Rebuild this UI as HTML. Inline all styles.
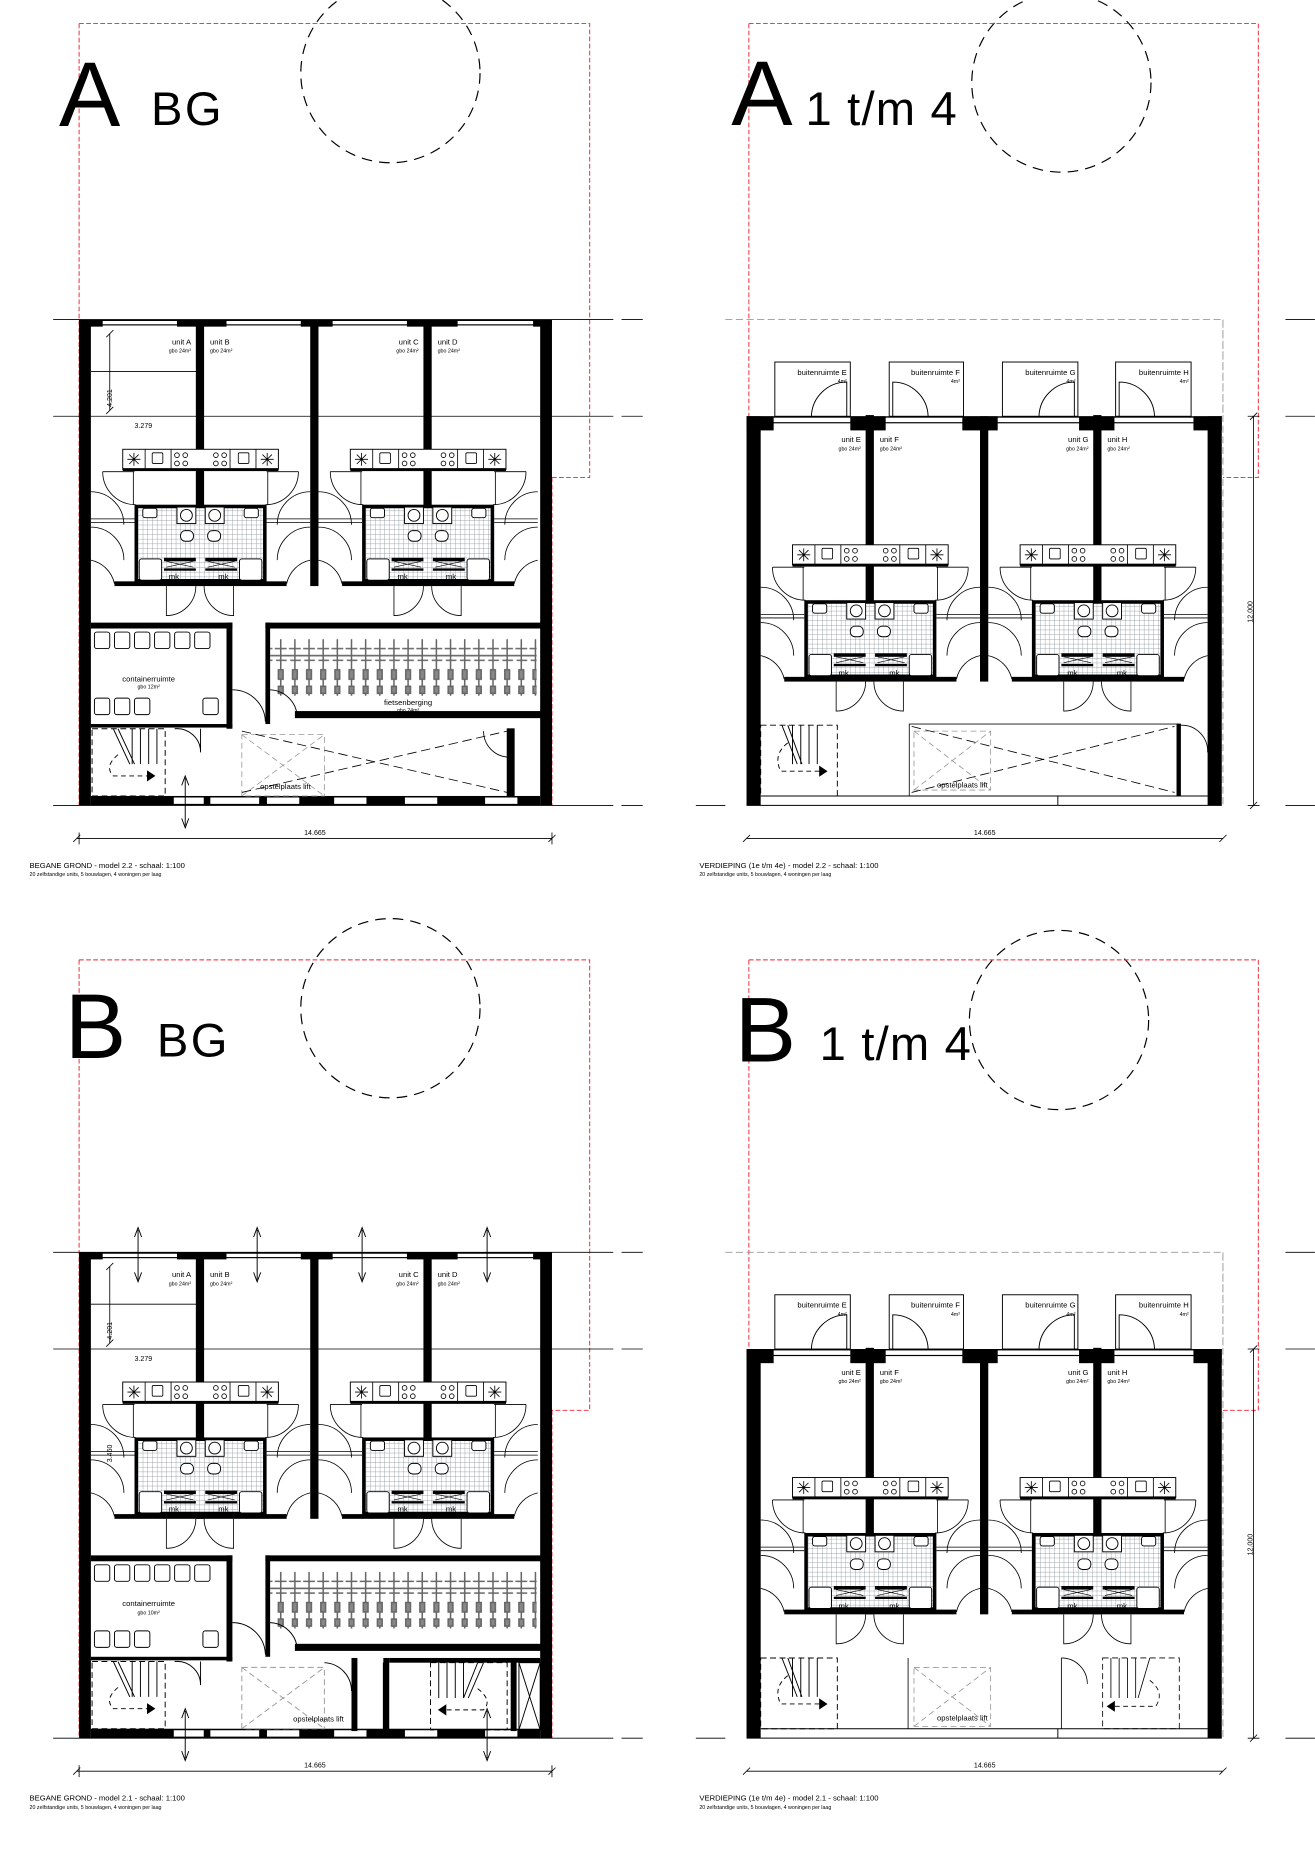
<!DOCTYPE html>
<html><head><meta charset="utf-8"><style>
html,body{margin:0;padding:0;background:#fff}
svg{display:block}
text{font-family:"Liberation Sans",sans-serif;fill:#000}
</style></head><body>
<svg width="1315" height="1849" viewBox="0 0 1115 1568" xmlns="http://www.w3.org/2000/svg">
<defs>
<pattern id="tile" width="4" height="4" patternUnits="userSpaceOnUse"><rect width="4" height="4" fill="#fff"/><path d="M0 0H4M0 0V4" stroke="#7f8a90" stroke-width="0.6"/></pattern>
<pattern id="bike" x="232" y="0" width="12" height="60" patternUnits="userSpaceOnUse">
<g stroke="#666" stroke-width="1.3" fill="none"><path d="M6 2V52M1 10H11M2 20H11M0 16H12"/><rect x="4" y="28" width="4" height="8" fill="#888"/><rect x="4" y="42" width="4" height="6" fill="#888"/></g></pattern>
<g id="pair">
<rect x="89" y="-226" width="7" height="226" fill="#000"/>
<rect x="27" y="-116" width="132" height="17" fill="#fff" stroke="#000" stroke-width="0.8"/>
<rect x="27" y="-100" width="132" height="2.5" fill="#000"/>
<path d="M46 -116V-99M68 -116V-99M118 -116V-99M140 -116V-99" stroke="#000" stroke-width="0.7"/>
<g stroke="#000" stroke-width="0.7" fill="none">
<path d="M36.5 -113V-102M31 -107.5H42M32.5 -111.5L40.5 -103.5M40.5 -111.5L32.5 -103.5"/>
<path d="M149.5 -113V-102M144 -107.5H155M145.5 -111.5L153.5 -103.5M153.5 -111.5L145.5 -103.5"/>
<rect x="52" y="-113" width="9" height="9" rx="1"/><rect x="125" y="-113" width="9" height="9" rx="1"/>
<circle cx="73" cy="-111" r="2"/><circle cx="80" cy="-111" r="2"/><circle cx="73" cy="-104" r="2"/><circle cx="80" cy="-104" r="2"/>
<circle cx="106" cy="-111" r="2"/><circle cx="113" cy="-111" r="2"/><circle cx="106" cy="-104" r="2"/><circle cx="113" cy="-104" r="2"/>
<path d="M10 -97H37M149 -97H176" />
<path d="M10 -97A28 28 0 0 0 38 -69M176 -97A28 28 0 0 1 148 -69"/>
<path d="M36 -97V-69M150 -97V-69"/>
<path d="M0 -57H37M149 -57H186M0 -54H37M149 -54H186"/>
<path d="M0 -80A28 28 0 0 1 28 -52M186 -80A28 28 0 0 0 158 -52"/>
<path d="M0 -50A28 28 0 0 1 28 -22M186 -50A28 28 0 0 0 158 -22"/>
<path d="M0 -22A26 26 0 0 1 20 -2M186 -22A26 26 0 0 0 166 -2"/>
<path d="M64 0V25A25 25 0 0 0 89 0M121 0V25A25 25 0 0 1 96 0"/>
</g>
<rect x="38.5" y="-67.5" width="109" height="63" fill="url(#tile)" stroke="#000" stroke-width="3"/>
<g stroke="#000" stroke-width="0.8" fill="#fff">
<rect x="44" y="-66" width="12" height="8" rx="2"/><rect x="130" y="-66" width="12" height="8" rx="2"/>
<rect x="73" y="-67" width="16" height="14"/><circle cx="81" cy="-60" r="5"/>
<rect x="97" y="-67" width="16" height="14"/><circle cx="105" cy="-60" r="5"/>
<rect x="76" y="-47" width="11" height="9" rx="4"/><rect x="99" y="-47" width="11" height="9" rx="4"/>
<rect x="41" y="-23" width="19" height="18" rx="2"/><rect x="126" y="-23" width="19" height="18" rx="2"/>
</g>
<rect x="62" y="-24" width="27" height="3" fill="#000"/><rect x="97" y="-24" width="27" height="3" fill="#000"/>
<rect x="62" y="-15" width="27" height="2" fill="#000"/><rect x="97" y="-15" width="27" height="2" fill="#000"/>
<path d="M64 -21L87 -16M64 -16L87 -21M99 -21L122 -16M99 -16L122 -21" stroke="#000" stroke-width="0.5"/>
<rect x="20" y="-4" width="146" height="4" fill="#000"/>
</g>
<g id="circ"><circle r="76" fill="none" stroke="#000" stroke-width="1" stroke-dasharray="9,6"/></g>
<g id="bgshell">
<path d="M45 271H545M45 353H545M45 683H545" stroke="#000" stroke-width="0.7"/>
<rect x="520" y="265" width="30" height="425" fill="#fff"/>
<path d="M527 271H545M527 353H545M527 683H545" stroke="#000" stroke-width="0.7"/>
<rect x="67" y="271" width="10" height="412" fill="#000"/>
<rect x="458" y="271" width="10" height="412" fill="#000"/>
<rect x="67" y="271" width="401" height="1.2" fill="#000"/>
<rect x="67" y="275" width="401" height="1" fill="#000"/>
<rect x="67" y="271" width="20" height="6" fill="#000"/><rect x="150" y="271" width="42" height="6" fill="#000"/>
<rect x="255" y="271" width="27" height="6" fill="#000"/><rect x="345" y="271" width="43" height="6" fill="#000"/><rect x="452" y="271" width="16" height="6" fill="#000"/>
<rect x="263" y="271" width="7" height="226" fill="#000"/>
<rect x="77" y="528" width="120" height="5" fill="#000"/><rect x="192" y="528" width="5" height="90" fill="#000"/>
<rect x="77" y="614" width="120" height="3" fill="#000"/>
<rect x="225" y="528" width="243" height="5" fill="#000"/><rect x="225" y="528" width="4" height="86" fill="#000"/>
<rect x="250" y="603" width="218" height="6" fill="#000"/>
<rect x="229" y="538" width="226" height="52" fill="url(#bike)"/>
<g stroke="#000" stroke-width="0.8" fill="none">
<path d="M197 585A28 28 0 0 1 225 612M229 585A24 24 0 0 1 252 608"/>
<rect x="80" y="536" width="13" height="14" rx="2"/><rect x="97" y="536" width="13" height="14" rx="2"/><rect x="114" y="536" width="13" height="14" rx="2"/><rect x="131" y="536" width="13" height="14" rx="2"/><rect x="148" y="536" width="13" height="14" rx="2"/><rect x="165" y="536" width="13" height="14" rx="2"/>
<rect x="80" y="592" width="13" height="14" rx="2"/><rect x="97" y="592" width="13" height="14" rx="2"/><rect x="114" y="592" width="13" height="14" rx="2"/><rect x="172" y="592" width="13" height="14" rx="2"/>
<rect x="78" y="618" width="62" height="57" stroke-dasharray="5,3"/>
<path d="M112 618V648M119 618V648M126 618V648M133 618V648M96 618L110 648M100 618L114 648"/>
<path d="M100 640Q88 650 96 658H125" stroke-dasharray="4,3"/><path d="M125 654L131 658L125 662Z" fill="#000"/>
<path d="M148 618A20 20 0 0 1 170 638V618"/>
</g>
<rect x="77" y="675" width="381" height="8" fill="#000"/>
<rect x="147" y="676" width="26" height="6" fill="#fff" stroke="#000" stroke-width="0.6"/><rect x="178" y="676" width="42" height="6" fill="#fff" stroke="#000" stroke-width="0.6"/>
<rect x="226" y="676" width="28" height="6" fill="#fff" stroke="#000" stroke-width="0.6"/><rect x="283" y="676" width="28" height="6" fill="#fff" stroke="#000" stroke-width="0.6"/>
<rect x="343" y="676" width="28" height="6" fill="#fff" stroke="#000" stroke-width="0.6"/><rect x="411" y="676" width="28" height="6" fill="#fff" stroke="#000" stroke-width="0.6"/>
<path d="M157 660V700M154 666L157 658L160 666M154 694L157 702L160 694" stroke="#000" stroke-width="0.8" fill="none"/>
<g stroke="#000" stroke-width="0.7" fill="none">
<path d="M65 711H468M62 714L68 708M465 714L471 708M67 706V716M468 706V716"/>
<path d="M93 283V348M90 286L96 280M90 351L96 345M77 315H170"/>
</g>
</g>
<g id="upshell">
<path d="M1090 271H1115M1090 353H1115M1090 683H1115M590 683H615" stroke="#000" stroke-width="0.7"/>
<path d="M615 271H1037V353M1037 271V683" stroke="#999" stroke-width="0.8" stroke-dasharray="6,3" fill="none"/>
<rect x="633" y="353" width="12" height="330" fill="#000"/>
<rect x="1024" y="353" width="12" height="330" fill="#000"/>
<rect x="633" y="353" width="403" height="1.2" fill="#000"/><rect x="633" y="358" width="403" height="1" fill="#000"/>
<rect x="633" y="353" width="23" height="12" fill="#000"/><rect x="721" y="353" width="30" height="12" fill="#000"/>
<rect x="816" y="353" width="30" height="12" fill="#000"/><rect x="915" y="353" width="30" height="12" fill="#000"/><rect x="1012" y="353" width="24" height="12" fill="#000"/>
<rect x="831" y="353" width="7" height="225" fill="#000"/>
<g stroke="#000" stroke-width="0.8" fill="none">
<rect x="657" y="307" width="64" height="46"/><rect x="754" y="307" width="63" height="46"/><rect x="850" y="307" width="64" height="46"/><rect x="946" y="307" width="64" height="46"/>
<path d="M718 353V324A30 30 0 0 0 688 353"/><path d="M757 353V324A30 30 0 0 1 787 353"/>
<path d="M911 353V324A30 30 0 0 0 881 353"/><path d="M949 353V324A30 30 0 0 1 979 353"/>
<rect x="645" y="615" width="65" height="60" stroke-dasharray="5,3"/>
<path d="M672 615V648M679 615V648M686 615V648M693 615V648M663 615L676 648M668 615L680 648"/>
<path d="M668 630Q655 640 662 654H695" stroke-dasharray="4,3"/><path d="M695 650L701 654L695 658Z" fill="#000"/>
</g>
<path d="M633 683H1036" stroke="#000" stroke-width="0.8"/>
<path d="M645 675H1024M897 675V683" stroke="#000" stroke-width="0.8"/>
<g stroke="#000" stroke-width="0.7" fill="none">
<path d="M633 711H1037M630 714L636 708M1034 714L1040 708"/>
<path d="M1063 353V683M1060 356L1066 350M1060 686L1066 680M1058 353H1068M1058 683H1068"/>
</g>
</g>
</defs>

<!-- ============ A BG ============ -->
<use href="#circ" x="331" y="62"/>
<path d="M67 20V683M67 20H500V405H468M468 405V683" stroke="#e23" stroke-width="0.8" stroke-dasharray="4,2" fill="none"/>
<use href="#bgshell"/>
<use href="#pair" x="77" y="497"/><use href="#pair" x="270" y="497"/>
<g stroke="#000" stroke-width="0.7" fill="none">
<rect x="205" y="623" width="70" height="52" stroke="#999" stroke-dasharray="5,3"/>
<path d="M205 623L275 675M205 675L275 623" stroke="#999" stroke-dasharray="5,3"/>
<rect x="430" y="618" width="6" height="57" fill="#000"/>
<path d="M205 620L430 672M205 672L430 620" stroke-dasharray="8,4"/>
<path d="M410 620A22 22 0 0 0 430 642"/>
</g>
<text x="50" y="107" font-size="78">A</text>
<text x="128" y="106" font-size="40" letter-spacing="2">BG</text>
<text x="162" y="292" font-size="6.5" text-anchor="end">unit A</text><text x="162" y="299" font-size="4.5" text-anchor="end">gbo 24m²</text>
<text x="178" y="292" font-size="6.5">unit B</text><text x="178" y="299" font-size="4.5">gbo 24m²</text>
<text x="355" y="292" font-size="6.5" text-anchor="end">unit C</text><text x="355" y="299" font-size="4.5" text-anchor="end">gbo 24m²</text>
<text x="371" y="292" font-size="6.5">unit D</text><text x="371" y="299" font-size="4.5">gbo 24m²</text>
<text x="114" y="363" font-size="6">3.279</text>
<text x="95" y="345" font-size="6" transform="rotate(-90 95 345)">4.201</text>
<text x="143" y="491" font-size="6.5">mk</text><text x="185" y="491" font-size="6.5">mk</text><text x="337" y="491" font-size="6.5">mk</text><text x="378" y="491" font-size="6.5">mk</text>
<text x="126" y="578" font-size="6.5" text-anchor="middle">containerruimte</text><text x="126" y="584" font-size="4.5" text-anchor="middle">gbo 12m²</text>
<text x="346" y="598" font-size="6.5" text-anchor="middle">fietsenberging</text><text x="346" y="604" font-size="4.5" text-anchor="middle">gbo 24m²</text>
<text x="242" y="669" font-size="6.5" text-anchor="middle">opstelplaats lift</text>
<text x="267" y="708" font-size="6" text-anchor="middle">14.665</text>
<text x="25" y="736" font-size="6.5">BEGANE GROND  -  model 2.2  -  schaal:  1:100</text>
<text x="25" y="743" font-size="4.5">20 zelfstandige units, 5 bouwlagen, 4 woningen per laag</text>

<!-- ============ A 1 t/m 4 ============ -->
<use href="#circ" x="900" y="70"/>
<path d="M635 20V683M635 20H1067V405H1037" stroke="#e23" stroke-width="0.8" stroke-dasharray="4,2" fill="none"/>
<use href="#upshell"/>
<use href="#pair" x="645" y="578"/><use href="#pair" x="838" y="578"/>
<g stroke="#000" stroke-width="0.7" fill="none">
<rect x="771" y="614" width="228" height="61"/><rect x="998" y="614" width="3" height="61" fill="#000"/>
<path d="M773 616L996 672M773 672L996 616" stroke-dasharray="8,4"/>
<rect x="775" y="620" width="65" height="50" stroke="#999" stroke-dasharray="5,3"/>
<path d="M775 620L840 670M775 670L840 620" stroke="#999" stroke-dasharray="5,3"/>
<path d="M1001 615A22 22 0 0 1 1024 638"/>
</g>
<text x="620" y="106" font-size="78">A</text>
<text x="683" y="106" font-size="40" letter-spacing="1">1 t/m 4</text>
<g font-size="6.5"><text x="718" y="318" text-anchor="end">buitenruimte E</text><text x="814" y="318" text-anchor="end">buitenruimte F</text><text x="912" y="318" text-anchor="end">buitenruimte G</text><text x="1008" y="318" text-anchor="end">buitenruimte H</text></g>
<g font-size="4.5"><text x="718" y="325" text-anchor="end">4m²</text><text x="814" y="325" text-anchor="end">4m²</text><text x="912" y="325" text-anchor="end">4m²</text><text x="1008" y="325" text-anchor="end">4m²</text></g>
<text x="730" y="375" font-size="6.5" text-anchor="end">unit E</text><text x="730" y="382" font-size="4.5" text-anchor="end">gbo 24m²</text>
<text x="746" y="375" font-size="6.5">unit F</text><text x="746" y="382" font-size="4.5">gbo 24m²</text>
<text x="923" y="375" font-size="6.5" text-anchor="end">unit G</text><text x="923" y="382" font-size="4.5" text-anchor="end">gbo 24m²</text>
<text x="939" y="375" font-size="6.5">unit H</text><text x="939" y="382" font-size="4.5">gbo 24m²</text>
<text x="711" y="573" font-size="6.5">mk</text><text x="754" y="573" font-size="6.5">mk</text><text x="905" y="573" font-size="6.5">mk</text><text x="947" y="573" font-size="6.5">mk</text>
<text x="816" y="668" font-size="6.5" text-anchor="middle">opstelplaats lift</text>
<text x="835" y="708" font-size="6" text-anchor="middle">14.665</text>
<text x="1062" y="528" font-size="6" transform="rotate(-90 1062 528)">12.000</text>
<text x="593" y="736" font-size="6.5">VERDIEPING (1e t/m 4e)  -  model 2.2  -  schaal:  1:100</text>
<text x="593" y="743" font-size="4.5">20 zelfstandige units, 5 bouwlagen, 4 woningen per laag</text>

<!-- ============ B BG ============ -->
<use href="#circ" x="331" y="855"/>
<path d="M67 814V1474M67 814H500V1196H468M468 1196V1474" stroke="#e23" stroke-width="0.8" stroke-dasharray="4,2" fill="none"/>
<g transform="translate(0,791)"><use href="#bgshell"/></g>
<use href="#pair" x="77" y="1288"/><use href="#pair" x="270" y="1288"/>
<g stroke="#000" stroke-width="0.8" fill="none">
<path d="M117 1043V1085M114 1049L117 1041L120 1049M114 1079L117 1087L120 1079"/>
<path d="M218 1043V1085M215 1049L218 1041L221 1049M215 1079L218 1087L221 1079"/>
<path d="M307 1043V1085M304 1049L307 1041L310 1049M304 1079L307 1087L310 1079"/>
<path d="M413 1043V1085M410 1049L413 1041L416 1049M410 1079L413 1087L416 1079"/>
<rect x="205" y="1414" width="70" height="52" stroke="#999" stroke-dasharray="5,3"/>
<path d="M205 1414L275 1466M205 1466L275 1414" stroke="#999" stroke-dasharray="5,3"/>
<rect x="365" y="1410" width="65" height="57" stroke-dasharray="5,3"/>
<path d="M372 1410V1440M379 1410V1440M386 1410V1440M393 1410V1440M410 1410L397 1440M405 1410L393 1440"/>
<path d="M405 1432Q418 1442 410 1450H378" stroke-dasharray="4,3"/><path d="M378 1446L372 1450L378 1454Z" fill="#000"/>
<rect x="440" y="1410" width="18" height="57"/><path d="M440 1410L458 1467M440 1467L458 1410"/>
<path d="M300 1410V1467M325 1410V1467M413 1451V1491M410 1457L413 1449L416 1457M410 1485L413 1493L416 1485"/>
<path d="M275 1410A24 24 0 0 1 298 1434"/>
</g>
<rect x="298" y="1406" width="5" height="62" fill="#000"/><rect x="325" y="1406" width="5" height="62" fill="#000"/>
<rect x="330" y="1406" width="128" height="4" fill="#000"/><rect x="433" y="1406" width="5" height="62" fill="#000"/>
<text x="55" y="897" font-size="78">B</text>
<text x="133" y="896" font-size="40" letter-spacing="2">BG</text>
<text x="162" y="1083" font-size="6.5" text-anchor="end">unit A</text><text x="162" y="1090" font-size="4.5" text-anchor="end">gbo 24m²</text>
<text x="178" y="1083" font-size="6.5">unit B</text><text x="178" y="1090" font-size="4.5">gbo 24m²</text>
<text x="355" y="1083" font-size="6.5" text-anchor="end">unit C</text><text x="355" y="1090" font-size="4.5" text-anchor="end">gbo 24m²</text>
<text x="371" y="1083" font-size="6.5">unit D</text><text x="371" y="1090" font-size="4.5">gbo 24m²</text>
<text x="114" y="1154" font-size="6">3.279</text>
<text x="95" y="1136" font-size="6" transform="rotate(-90 95 1136)">4.201</text>
<text x="95" y="1240" font-size="6" transform="rotate(-90 95 1240)">3.460</text>
<text x="143" y="1282" font-size="6.5">mk</text><text x="185" y="1282" font-size="6.5">mk</text><text x="337" y="1282" font-size="6.5">mk</text><text x="378" y="1282" font-size="6.5">mk</text>
<text x="126" y="1362" font-size="6.5" text-anchor="middle">containerruimte</text><text x="126" y="1369" font-size="4.5" text-anchor="middle">gbo 10m²</text>
<text x="270" y="1460" font-size="6.5" text-anchor="middle">opstelplaats lift</text>
<text x="267" y="1499" font-size="6" text-anchor="middle">14.665</text>
<text x="25" y="1527" font-size="6.5">BEGANE GROND  -  model 2.1  -  schaal:  1:100</text>
<text x="25" y="1534" font-size="4.5">20 zelfstandige units, 5 bouwlagen, 4 woningen per laag</text>

<!-- ============ B 1 t/m 4 ============ -->
<use href="#circ" x="898" y="865"/>
<path d="M635 814V1474M635 814H1067V1196H1037" stroke="#e23" stroke-width="0.8" stroke-dasharray="4,2" fill="none"/>
<g transform="translate(0,791)"><use href="#upshell"/></g>
<use href="#pair" x="645" y="1369"/><use href="#pair" x="838" y="1369"/>
<g stroke="#000" stroke-width="0.7" fill="none">
<rect x="775" y="1414" width="65" height="50" stroke="#999" stroke-dasharray="5,3"/>
<path d="M775 1414L840 1464M775 1464L840 1414" stroke="#999" stroke-dasharray="5,3"/>
<path d="M770 1406V1466M900 1406V1466" />
<rect x="935" y="1406" width="65" height="60" stroke-dasharray="5,3"/>
<path d="M942 1406V1440M949 1406V1440M956 1406V1440M963 1406V1440M975 1406L965 1440"/>
<path d="M975 1425Q988 1435 980 1447H945" stroke-dasharray="4,3"/><path d="M945 1443L939 1447L945 1451Z" fill="#000"/>
<path d="M900 1406A22 22 0 0 1 922 1428"/>
</g>
<text x="623" y="900" font-size="78">B</text>
<text x="695" y="899" font-size="40" letter-spacing="1">1 t/m 4</text>
<g font-size="6.5"><text x="718" y="1109" text-anchor="end">buitenruimte E</text><text x="814" y="1109" text-anchor="end">buitenruimte F</text><text x="912" y="1109" text-anchor="end">buitenruimte G</text><text x="1008" y="1109" text-anchor="end">buitenruimte H</text></g>
<g font-size="4.5"><text x="718" y="1116" text-anchor="end">4m²</text><text x="814" y="1116" text-anchor="end">4m²</text><text x="912" y="1116" text-anchor="end">4m²</text><text x="1008" y="1116" text-anchor="end">4m²</text></g>
<text x="730" y="1166" font-size="6.5" text-anchor="end">unit E</text><text x="730" y="1173" font-size="4.5" text-anchor="end">gbo 24m²</text>
<text x="746" y="1166" font-size="6.5">unit F</text><text x="746" y="1173" font-size="4.5">gbo 24m²</text>
<text x="923" y="1166" font-size="6.5" text-anchor="end">unit G</text><text x="923" y="1173" font-size="4.5" text-anchor="end">gbo 24m²</text>
<text x="939" y="1166" font-size="6.5">unit H</text><text x="939" y="1173" font-size="4.5">gbo 24m²</text>
<text x="711" y="1364" font-size="6.5">mk</text><text x="754" y="1364" font-size="6.5">mk</text><text x="905" y="1364" font-size="6.5">mk</text><text x="947" y="1364" font-size="6.5">mk</text>
<text x="816" y="1459" font-size="6.5" text-anchor="middle">opstelplaats lift</text>
<text x="835" y="1499" font-size="6" text-anchor="middle">14.665</text>
<text x="1062" y="1319" font-size="6" transform="rotate(-90 1062 1319)">12.000</text>
<text x="593" y="1527" font-size="6.5">VERDIEPING (1e t/m 4e)  -  model 2.1  -  schaal:  1:100</text>
<text x="593" y="1534" font-size="4.5">20 zelfstandige units, 5 bouwlagen, 4 woningen per laag</text>
</svg>
</body></html>
